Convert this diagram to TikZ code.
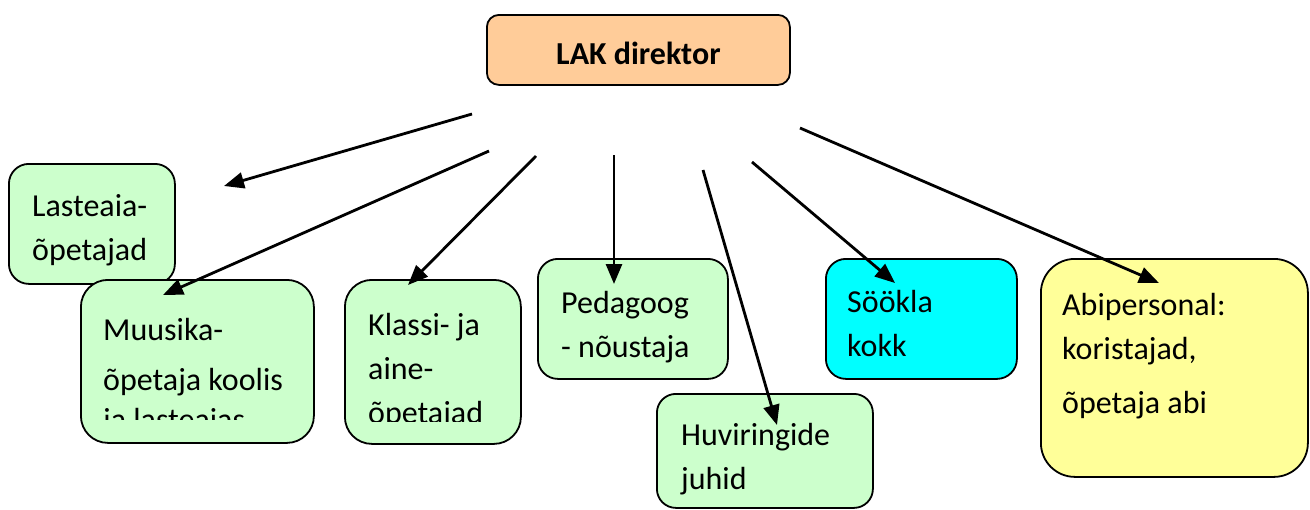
\documentclass[tikz,border=0pt]{standalone}
\usepackage{fontspec}
\setmainfont{Carlito}
\usetikzlibrary{arrows.meta}
\definecolor{mygreen}{HTML}{CCFFCC}
\definecolor{myorange}{HTML}{FFCC99}
\definecolor{mycyan}{HTML}{00FFFF}
\definecolor{myyellow}{HTML}{FFFF99}
\tikzset{
  mybox/.style={draw=black,line width=1.8pt,anchor=north west,inner sep=0pt},
  mytext/.style={anchor=north west,inner sep=0pt,align=left,font=\fontsize{32}{44}\selectfont},
  myarrow/.style={line width=2.8pt,-{Triangle[length=20pt,width=16pt]}}
}

\begin{document}
\begin{tikzpicture}[x=1pt,y=-1pt]
        \useasboundingbox (0,0) rectangle (1310,509);
        \node[mybox,fill=myorange,rounded corners=12pt,minimum width=303pt,minimum height=70pt,
          font=\fontsize{32}{44}\selectfont\bfseries,text height=30pt,text depth=0pt] (director) at (486,14) {LAK direktor};
        \node[mybox,fill=mygreen,rounded corners=20pt,minimum width=166pt,minimum height=120pt] (lasteaia) at (8,163) {};
        \node[mytext] (lasteaiatext) at (32,185.2) {\strut Lasteaia-\\\strut õpetajad};
        \node[mybox,fill=mygreen,rounded corners=27pt,minimum width=233pt,minimum height=163pt] (muusika) at (80,279) {};
        \begin{scope}
          \clip (80,279) rectangle (313,419);
          \node[mytext] (muusikatext) at (103,309.2) {\strut Muusika-\\[6pt]\strut õpetaja koolis\\[-4pt]\strut ja lasteaias};
        \end{scope}
        \node[mybox,fill=mygreen,rounded corners=27pt,minimum width=176pt,minimum height=164pt] (klassi) at (344,279) {};
        \begin{scope}
          \clip (344,279) rectangle (520,421);
          \node[mytext] (klassitext) at (368,304.2) {\strut Klassi- ja\\\strut aine-\\\strut õpetajad};
        \end{scope}
        \node[mybox,fill=mygreen,rounded corners=20pt,minimum width=190pt,minimum height=120pt] (pedagoog) at (537,258) {};
        \node[mytext] (pedagoogtext) at (561,282.2) {\strut Pedagoog\\\strut - nõustaja};
        \node[mybox,fill=mygreen,rounded corners=19pt,minimum width=216pt,minimum height=114pt] (huviring) at (656,393) {};
        \node[mytext] (huviringtext) at (681,414.2) {\strut Huviringide\\\strut juhid};
        \node[mybox,fill=mycyan,rounded corners=20pt,minimum width=191pt,minimum height=120pt] (sookla) at (825,258) {};
        \node[mytext] (sooklatext) at (847,281.2) {\strut Söökla\\\strut kokk};
        \node[mybox,fill=myyellow,rounded corners=34pt,minimum width=267pt,minimum height=218pt] (abi) at (1040,258) {};
        \node[mytext] (abitext) at (1062,284.2) {\strut Abipersonal:\\\strut koristajad,\\[10pt]\strut õpetaja abi};
        \coordinate (from1) at (472,114); \coordinate (to1) at (224,186);
        \coordinate (from2) at (489,151); \coordinate (to2) at (163,295);
        \coordinate (from3) at (536,156); \coordinate (to3) at (408,285);
        \coordinate (from4) at (614,155); \coordinate (to4) at (614,284);
        \coordinate (from5) at (703,170); \coordinate (to5) at (777,425);
        \coordinate (from6) at (752,162); \coordinate (to6) at (895,283);
        \coordinate (from7) at (800,128); \coordinate (to7) at (1159,283);
        \foreach \i in {1,...,7}
          \draw[myarrow] (from\i) -- (to\i);
      \end{tikzpicture}
\end{document}
